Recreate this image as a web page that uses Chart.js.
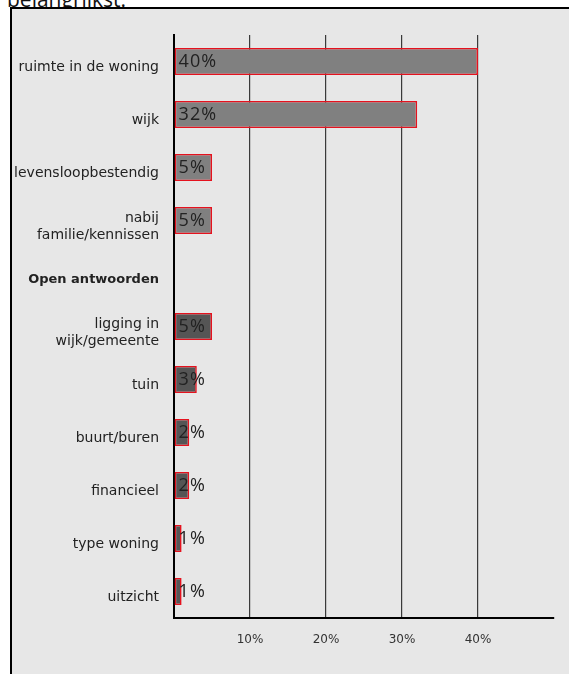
<!DOCTYPE html>
<html>
<head>
<meta charset="utf-8">
<script src="https://cdn.jsdelivr.net/npm/chart.js@4.4.1/dist/chart.umd.min.js"></script>
<style>
  html, body { margin: 0; padding: 0; background: #fff; overflow: hidden; }
  body { width: 569px; height: 674px; position: relative; }
  .caption {
    position: absolute; left: 7px; top: -13px;
    font: 21px "Open Sans", sans-serif; line-height: 24px; color: #111;
  }
  .panel {
    position: absolute; left: 10px; top: 7px; width: 600px; height: 700px;
    background: #e7e7e7; border-top: 2.5px solid #000; border-left: 2px solid #000;
  }
  #chart { position: absolute; left: 0; top: 0; }
</style>
</head>
<body>
<div class="caption">belangrijkst:</div>
<div class="panel"></div>
<canvas id="chart" width="569" height="674"></canvas>
<script>
// Answer categories; index 4 is the section header for the open answers
const categories = [
    'ruimte in de woning',
    'wijk',
    'levensloopbestendig',
    ['nabij', 'familie/kennissen'],
    'Open antwoorden',
    ['ligging in', 'wijk/gemeente'],
    'tuin',
    'buurt/buren',
    'financieel',
    'type woning',
    'uitzicht'
];
const percentages = [40, 32, 5, 5, null, 5, 3, 2, 2, 1, 1];
const xTicks = [10, 20, 30, 40];

const headerIndex = 4;
const labelFont = '"DejaVu Sans", sans-serif';

// Percentage text written at the start of each bar
const valueLabels = {
    id: 'valueLabels',
    afterDatasetsDraw(chart) {
        const ctx = chart.ctx;
        const meta = chart.getDatasetMeta(0);
        ctx.save();
        ctx.font = '18px "Open Sans", sans-serif';
        ctx.letterSpacing = '1px';
        ctx.fillStyle = '#222';
        ctx.textAlign = 'left';
        ctx.textBaseline = 'middle';
        meta.data.forEach((bar, i) => {
            const v = percentages[i];
            if (v == null) return;
            ctx.fillText(v + '%', bar.base + 4, bar.y);
        });
        ctx.restore();
    }
};

new Chart(document.getElementById('chart'), {
    type: 'bar',
    data: {
        labels: categories,
        datasets: [{
            data: percentages,
            backgroundColor: c => c.dataIndex < headerIndex ? '#808080' : '#555555',
            borderColor: '#e5121e',
            borderWidth: 1.6,
            borderSkipped: false,
            barPercentage: 0.51,
            categoryPercentage: 1
        }]
    },
    options: {
        indexAxis: 'y',
        responsive: false,
        animation: false,
        layout: { padding: { top: 35, right: 14, bottom: 0, left: 0 } },
        plugins: {
            legend: { display: false },
            tooltip: { enabled: false }
        },
        scales: {
            x: {
                min: 0,
                max: 50,
                afterFit: s => { s.height = 56; },
                afterBuildTicks: s => { s.ticks = [0, ...xTicks, 50].map(v => ({ value: v })); },
                ticks: {
                    padding: 15,
                    color: '#333',
                    font: { family: labelFont, size: 12 },
                    callback: v => xTicks.includes(v) ? v + '%' : ''
                },
                grid: {
                    drawTicks: false,
                    color: c => xTicks.includes(c.tick && c.tick.value) ? '#3a3a3a' : 'rgba(0,0,0,0)',
                    lineWidth: 1.2
                },
                border: { display: true, color: '#000', width: 2 }
            },
            y: {
                afterFit: s => { s.width = 174; },
                ticks: {
                    padding: 15,
                    labelOffset: 6,
                    color: '#222',
                    font: c => c.index === headerIndex
                        ? { family: labelFont, size: 13, weight: 'bold', lineHeight: 1.2 }
                        : { family: labelFont, size: 14, weight: 'normal', lineHeight: 1.2 }
                },
                grid: { drawTicks: false, color: 'rgba(0,0,0,0)' },
                border: { display: true, color: '#000', width: 2 }
            }
        }
    },
    plugins: [valueLabels]
});
</script>
</body>
</html>
